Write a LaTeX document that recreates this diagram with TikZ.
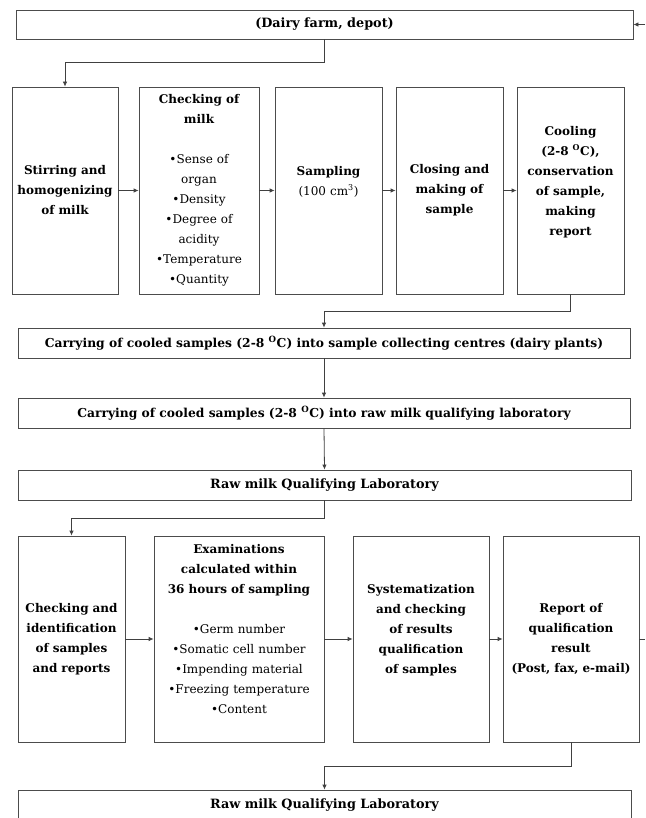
\documentclass[tikz,border=0pt]{standalone}
\usepackage{fontspec}
\setmainfont{DejaVu Serif}
\usetikzlibrary{arrows.meta}
\begin{document}
\begin{tikzpicture}[x=1pt,y=-1pt,
  box/.style={draw=black!70,line width=0.8pt,inner sep=0pt,align=center,
    font=\fontsize{12}{20}\selectfont\bfseries},
  wide/.style={box,minimum width=612pt,minimum height=30pt,font=\fontsize{12.3}{20}\selectfont\bfseries},
  single/.style={box,minimum width=613pt,minimum height=30pt,font=\fontsize{12.8}{20}\selectfont\bfseries},
  tall/.style={box,minimum height=207pt},
  conn/.style={draw=black!75,line width=0.8pt},
  arr/.style={conn,-{Latex[length=5pt,width=4.5pt]}}
]
\useasboundingbox (0,0) rectangle (645,818);
\fill[white] (0,0) rectangle (645,818);

% top
\node[single,minimum width=617pt,minimum height=29pt] (top) at (324.5,24.5) {(Dairy farm, depot)};

% row 1
\node[tall,minimum width=106pt,text width=104pt] (b1) at (65,190.5)
  {Stirring and\\homogenizing\\of milk};
\node[tall,minimum width=120pt,text width=118pt] (b2) at (199,190.5)
  {Checking of\\milk\\[20pt]\mdseries •Sense of\\organ\\•Density\\•Degree of\\acidity\\•Temperature\\•Quantity};
\node[tall,minimum width=107pt,text width=105pt] (b3) at (328.5,190.5)
  {Sampling\\{\mdseries(100 cm\textsuperscript{3})}\\\mbox{}};
\node[tall,minimum width=107pt,text width=105pt] (b4) at (449.5,190.5)
  {Closing and\\making of\\sample};
\node[tall,minimum width=107pt,text width=105pt] (b5) at (570.5,190.5)
  {Cooling\\(2-8 \textsuperscript{O}C),\\conservation\\of sample,\\making\\report\\\mbox{}};

% middle
\node[wide] (c1) at (324,343) {Carrying of cooled samples (2-8 \textsuperscript{O}C) into sample collecting centres (dairy plants)};
\node[wide] (c2) at (324,413) {Carrying of cooled samples (2-8 \textsuperscript{O}C) into raw milk qualifying laboratory};
\node[single] (c3) at (324.5,485) {Raw milk Qualifying Laboratory};

% row 2
\node[box,minimum height=206pt,minimum width=107pt,text width=105pt] (a1) at (71.5,639)
  {Checking and\\identification\\of samples\\and reports};
\node[box,minimum height=206pt,minimum width=170pt,text width=166pt] (a2) at (239,639)
  {Examinations\\calculated within\\36 hours of sampling\\[20pt]\mdseries •Germ number\\•Somatic cell number\\•Impending material\\•Freezing temperature\\•Content\\\mbox{}};
\node[box,minimum height=206pt,minimum width=136pt,text width=132pt] (a3) at (421,639)
  {Systematization\\and checking\\of results\\qualification\\of samples\\\mbox{}};
\node[box,minimum height=206pt,minimum width=136pt,text width=132pt] (a4) at (571,639)
  {Report of\\qualification\\result\\(Post, fax, e-mail)};

% bottom
\node[single] (d) at (324.5,805) {Raw milk Qualifying Laboratory};

\coordinate (inR) at (645,24.5);
\coordinate (outR) at (645,639);

% connectors
\draw[arr] (inR) -- (top.east);
\draw[arr] (top.south) -- ++(0,23.5) -| (b1.north);
\draw[arr] (b1.east) -- (b2.west);
\draw[arr] (b2.east) -- (b3.west);
\draw[arr] (b3.east) -- (b4.west);
\draw[arr] (b4.east) -- (b5.west);
\draw[arr] (b5.south) -- ++(0,17) -| (c1.north);
\draw[arr] (c1.south) -- (c2.north);
\draw[arr] (c2.south) -- (c3.north);
\draw[arr] (c3.south) -- ++(0,18) -| (a1.north);
\draw[arr] (a1.east) -- (a2.west);
\draw[arr] (a2.east) -- (a3.west);
\draw[arr] (a3.east) -- (a4.west);
\draw[conn] (a4.east) -- (outR);
\draw[arr] (a4.south) -- ++(0,24) -| (d.north);
\end{tikzpicture}
\end{document}
